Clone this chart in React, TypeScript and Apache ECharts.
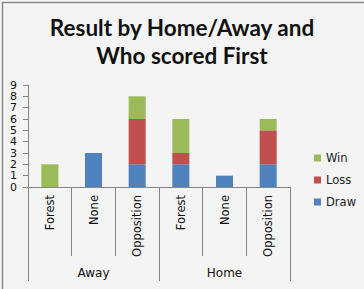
import React, { useEffect, useRef } from "react";
import * as echarts from "echarts";

const categories = ["Forest", "None", "Opposition", "Forest", "None", "Opposition"];
const groups = ["Away", "Home"];
const drawValues = [0, 3, 2, 2, 1, 2];
const lossValues = [0, 0, 4, 1, 0, 3];
const winValues = [2, 0, 2, 3, 0, 1];
const legendOrder = ["Win", "Loss", "Draw"];

const axisColor = "#868686";
const labelFont = "DejaVu Sans";

export default function App() {
  const ref = useRef<HTMLDivElement>(null);
  useEffect(() => {
    if (!ref.current) return;
    const chart = echarts.init(ref.current, null, { renderer: "svg" });
    const nz = (a: number[]) => a.map((v) => (v === 0 ? null : v));
    chart.setOption({
      animation: false,
      backgroundColor: "#f4f4f4",
      title: {
        text: "Result by Home/Away and\nWho scored First",
        left: "center",
        top: 8,
        textStyle: {
          fontFamily: "Lato",
          fontWeight: "bold",
          fontSize: 22.5,
          lineHeight: 28,
          color: "#111",
        },
      },
      legend: {
        data: legendOrder,
        orient: "vertical",
        left: 309,
        top: 147,
        icon: "rect",
        itemWidth: 7,
        itemHeight: 7,
        itemGap: 10,
        textStyle: { fontFamily: labelFont, fontSize: 11.5, color: "#222" },
      },
      grid: { left: 28, right: 74, top: 85, bottom: 102, containLabel: false },
      xAxis: [
        {
          type: "category",
          data: categories,
          position: "bottom",
          axisLine: { show: true, lineStyle: { color: axisColor } },
          axisTick: { show: true, length: 69, interval: 0, lineStyle: { color: axisColor } },
          axisLabel: {
            rotate: 90,
            interval: 0,
            margin: 8,
            fontFamily: labelFont,
            fontSize: 11.5,
            color: "#111",
          },
        },
        {
          type: "category",
          data: groups,
          position: "bottom",
          axisLine: { show: false },
          axisTick: { show: true, length: 94, interval: 0, lineStyle: { color: axisColor } },
          axisLabel: {
            margin: 80,
            interval: 0,
            fontFamily: labelFont,
            fontSize: 12,
            color: "#111",
          },
        },
      ],
      yAxis: {
        type: "value",
        min: 0,
        max: 9,
        interval: 1,
        axisLine: { show: true, lineStyle: { color: axisColor } },
        axisTick: { show: true, length: 5, lineStyle: { color: axisColor } },
        splitLine: { show: false },
        axisLabel: {
          margin: 11,
          fontFamily: labelFont,
          fontSize: 11,
          lineHeight: 11,
          color: "#111",
          showMinLabel: true,
          showMaxLabel: true,
          hideOverlap: false,
        },
      },
      series: [
        { name: "Draw", type: "bar", stack: "t", data: nz(drawValues), barWidth: "39%", itemStyle: { color: "#4F81BD" } },
        { name: "Loss", type: "bar", stack: "t", data: nz(lossValues), barWidth: "39%", itemStyle: { color: "#C0504D" } },
        { name: "Win", type: "bar", stack: "t", data: nz(winValues), barWidth: "39%", itemStyle: { color: "#9BBB59" } },
      ],
      graphic: [
        {
          type: "rect",
          left: 0,
          top: 0,
          shape: { width: 363, height: 288 },
          style: { fill: "none", stroke: "#8a8a8a", lineWidth: 1.5 },
          silent: true,
        },
      ],
    });
    return () => chart.dispose();
  }, []);
  return (
    <div
      ref={ref}
      style={{ position: "fixed", left: 0, top: 0, width: 364, height: 289 }}
    />
  );
}
